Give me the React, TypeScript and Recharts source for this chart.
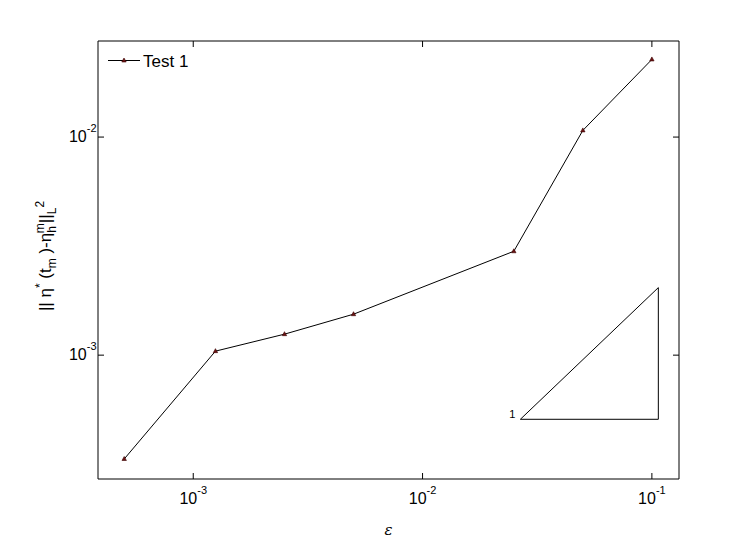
import { LineChart, Line, XAxis, YAxis, Legend, ReferenceDot } from 'recharts';

const epsilons = [0.0005, 0.00125, 0.0025, 0.005, 0.025, 0.05, 0.1];
const errors = [3.34e-4, 1.043e-3, 1.248e-3, 1.541e-3, 2.995e-3, 1.073e-2, 2.27e-2];
const seriesName = 'Test 1';

// slope-1 reference triangle
const triangleX = [0.0267, 0.1067, 0.1067, 0.0267];
const triangleY = [5.08e-4, 5.08e-4, 2.04e-3, 5.08e-4];
const slopeLabel = '1';

const xTicks = [1e-3, 1e-2, 1e-1];
const yTicks = [1e-3, 1e-2];
const xDomain = [3.843e-4, 0.1313];
const yDomain = [2.704e-4, 0.02758];

const data = epsilons.map((x, i) => ({ x, y: errors[i] }));
const triangle = triangleX.map((x, i) => ({ x, y: triangleY[i] }));

const FONT = '"Liberation Sans", Arial, sans-serif';
const exponent = (v: number) => String(Math.round(Math.log10(v)));

function Marker(props: any) {
  const { cx, cy } = props;
  if (cx == null || cy == null) return null;
  return (
    <polygon
      points={`${cx},${cy - 2.5} ${cx - 2.2},${cy + 1.5} ${cx + 2.2},${cy + 1.5}`}
      fill="#6b1414"
      stroke="#3a0000"
      strokeWidth={0.6}
    />
  );
}

function BottomTick({ x, y, payload }: any) {
  return (
    <g>
      <line x1={x} y1={y} x2={x} y2={y - 6} stroke="#000" />
      <text x={x} y={y + 25} textAnchor="middle" fontFamily={FONT} fontSize={16} fill="#000">
        10
        <tspan dy={-10} fontSize={11}>{exponent(payload.value)}</tspan>
      </text>
    </g>
  );
}

function LeftTick({ x, y, payload }: any) {
  return (
    <g>
      <line x1={x} y1={y} x2={x + 6} y2={y} stroke="#000" />
      <text x={x - 1.5} y={y + 5} textAnchor="end" fontFamily={FONT} fontSize={16} fill="#000">
        10
        <tspan dy={-10} fontSize={11}>{exponent(payload.value)}</tspan>
      </text>
    </g>
  );
}

function TopTick({ x, y }: any) {
  return <line x1={x} y1={y} x2={x} y2={y + 6} stroke="#000" />;
}

function RightTick({ x, y }: any) {
  return <line x1={x} y1={y} x2={x - 6} y2={y} stroke="#000" />;
}

function YTitle({ viewBox }: any) {
  const cx = 51;
  const cy = viewBox.y + viewBox.height / 2 - 4;
  return (
    <text
      x={cx}
      y={cy}
      transform={`rotate(-90, ${cx}, ${cy})`}
      textAnchor="middle"
      fontFamily={FONT}
      fontSize={17}
      fill="#000"
    >
      || η
      <tspan dy={-7} fontSize={12}>*</tspan>
      <tspan dy={7}> (t</tspan>
      <tspan dy={5} fontSize={12}>m</tspan>
      <tspan dy={-5}> )-η</tspan>
      <tspan dy={5} fontSize={12}>h</tspan>
      <tspan dx={-7} dy={-12} fontSize={12}>m</tspan>
      <tspan dy={7}>||</tspan>
      <tspan dy={5} fontSize={12}>L</tspan>
      <tspan dy={-12} fontSize={12}>2</tspan>
    </text>
  );
}

function XTitle({ viewBox }: any) {
  return (
    <text
      x={viewBox.x + viewBox.width / 2}
      y={viewBox.y + 56}
      textAnchor="middle"
      fontFamily="'DejaVu Serif', serif"
      fontStyle="italic"
      fontSize={15}
      fill="#000"
    >
      ε
    </text>
  );
}

function LegendBox({ payload }: any) {
  const name = payload && payload.length ? payload[0].value : seriesName;
  return (
    <svg width={110} height={26} style={{ display: 'block' }}>
      <line x1={4} y1={12.5} x2={36} y2={12.5} stroke="#000" />
      <Marker cx={20} cy={12.5} />
      <text x={39} y={19} fontFamily={FONT} fontSize={17} fill="#000">
        {name}
      </text>
    </svg>
  );
}

export default function App() {
  return (
    <div style={{ position: 'absolute', left: 0, top: 0, width: 750, height: 538, background: '#fff' }}>
      <LineChart width={750} height={538} data={data} margin={{ top: 40, right: 70, bottom: 0, left: 0 }}>
        <XAxis
          dataKey="x"
          type="number"
          scale="log"
          domain={xDomain}
          allowDataOverflow
          ticks={xTicks}
          interval={0}
          height={59}
          tickSize={0}
          tickMargin={0}
          tickLine={false}
          axisLine={{ stroke: '#000' }}
          tick={<BottomTick />}
          label={{ content: (p: any) => <XTitle {...p} /> }}
        />
        <XAxis
          xAxisId="top"
          orientation="top"
          dataKey="x"
          type="number"
          scale="log"
          domain={xDomain}
          allowDataOverflow
          ticks={xTicks}
          interval={0}
          height={1}
          tickSize={0}
          tickMargin={0}
          tickLine={false}
          axisLine={{ stroke: '#000' }}
          tick={<TopTick />}
        />
        <YAxis
          type="number"
          scale="log"
          domain={yDomain}
          allowDataOverflow
          ticks={yTicks}
          interval={0}
          width={98}
          tickSize={0}
          tickMargin={0}
          tickLine={false}
          axisLine={{ stroke: '#000' }}
          tick={<LeftTick />}
          label={{ content: (p: any) => <YTitle {...p} /> }}
        />
        <YAxis
          yAxisId="right"
          orientation="right"
          type="number"
          scale="log"
          domain={yDomain}
          allowDataOverflow
          ticks={yTicks}
          interval={0}
          width={1}
          tickSize={0}
          tickMargin={0}
          tickLine={false}
          axisLine={{ stroke: '#000' }}
          tick={<RightTick />}
        />
        <Legend
          layout="horizontal"
          verticalAlign="middle"
          align="center"
          content={<LegendBox />}
          wrapperStyle={{ left: 104, top: 48, width: 'auto', height: 'auto' }}
        />
        <Line
          dataKey="y"
          name={seriesName}
          stroke="#000"
          strokeWidth={1}
          dot={<Marker />}
          activeDot={false}
          isAnimationActive={false}
        />
        <Line
          data={triangle}
          dataKey="y"
          name="slope"
          legendType="none"
          stroke="#000"
          strokeWidth={1}
          dot={false}
          activeDot={false}
          isAnimationActive={false}
        />
        <ReferenceDot
          x={triangleX[0]}
          y={triangleY[0]}
          r={0}
          fill="none"
          stroke="none"
          label={{
            content: (p: any) => (
              <text x={p.viewBox.x - 5} y={p.viewBox.y - 1} textAnchor="end" fontFamily={FONT} fontSize={11} fill="#000">
                {slopeLabel}
              </text>
            ),
          }}
        />
      </LineChart>
    </div>
  );
}
